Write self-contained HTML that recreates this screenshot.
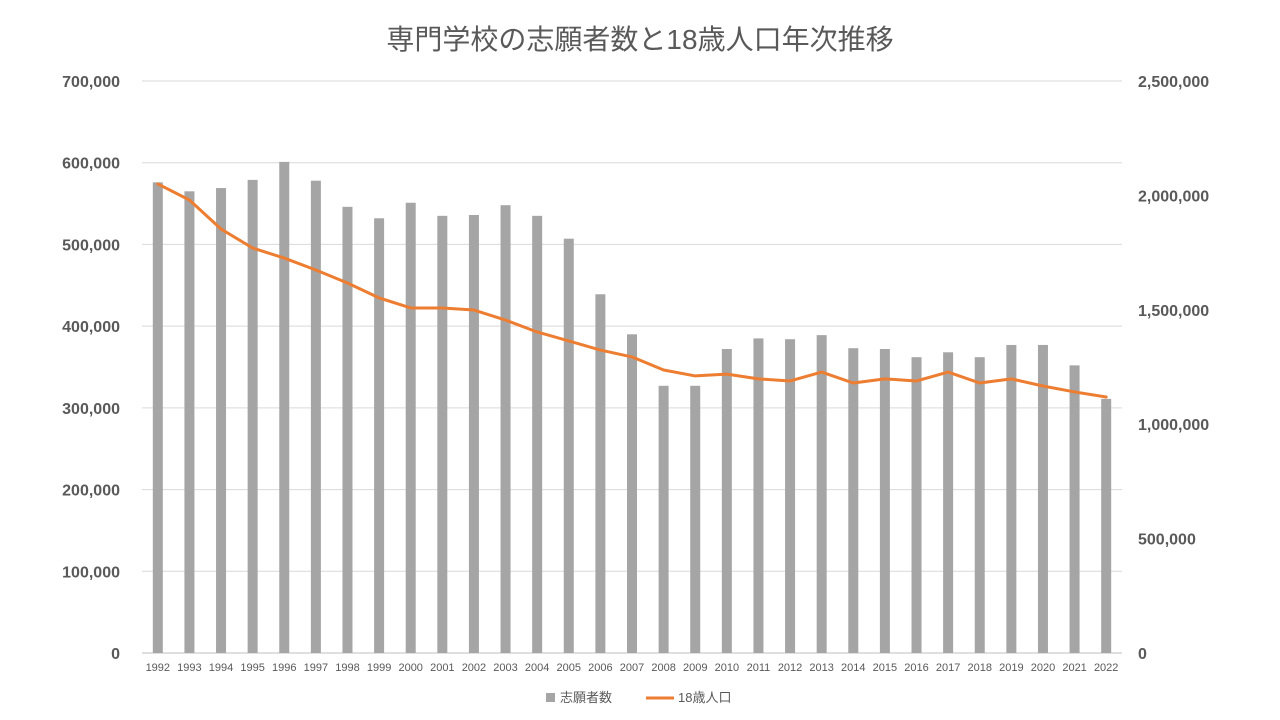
<!DOCTYPE html>
<html><head><meta charset="utf-8">
<style>
html,body{margin:0;padding:0;background:#fff;}
svg{display:block;font-family:"Liberation Sans","Noto Sans CJK JP",sans-serif;}
</style></head>
<body>
<svg id="chart" width="1280" height="720" viewBox="0 0 1280 720">
<text x="640" y="49" text-anchor="middle" font-size="28" fill="#595959">専門学校の志願者数と18歳人口年次推移</text>
<g id="grid"></g>
<g id="bars"></g>
<g id="line"></g>
<g id="axes"></g>
<g>
<rect x="546" y="693" width="9" height="9" fill="#a5a5a5"/>
<text x="560" y="702" font-size="13" fill="#595959">志願者数</text>
<line x1="646" y1="698" x2="674" y2="698" stroke="#ed7d31" stroke-width="3"/>
<text x="678" y="702" font-size="13" fill="#595959">18歳人口</text>
</g>
</svg>
<script>
const years = ["1992","1993","1994","1995","1996","1997","1998","1999","2000","2001","2002","2003","2004","2005","2006","2007","2008","2009","2010","2011","2012","2013","2014","2015","2016","2017","2018","2019","2020","2021","2022"];
const applicants = [576000,565000,569000,579000,601000,578000,546000,532000,551000,535000,536000,548000,535000,507000,439000,390000,327000,327000,372000,385000,384000,389000,373000,372000,362000,368000,362000,377000,377000,352000,311000];
const population18 = [2050000,1980000,1853000,1770000,1726000,1674000,1617000,1552000,1508000,1508000,1499000,1455000,1403000,1364000,1324000,1294000,1237000,1211000,1219000,1198000,1189000,1228000,1180000,1198000,1189000,1228000,1180000,1198000,1167000,1141000,1119000];
const leftTicks = [0,100000,200000,300000,400000,500000,600000,700000];
const rightTicks = [0,500000,1000000,1500000,2000000,2500000];

const NS="http://www.w3.org/2000/svg";
const X0=142,X1=1122,Y0=653,Y1=81;
const bw=(X1-X0)/years.length;
const xC=i=>X0+bw*(i+0.5);
const yL=v=>Y0-(v/700000)*(Y0-Y1);
const yR=v=>Y0-(v/2500000)*(Y0-Y1);
const fmt=v=>v.toLocaleString("en-US");
function mk(tag,attrs,parent,text){const e=document.createElementNS(NS,tag);for(const k in attrs)e.setAttribute(k,attrs[k]);if(text!==undefined)e.textContent=text;parent.appendChild(e);return e;}
const grid=document.getElementById("grid"),axes=document.getElementById("axes"),bars=document.getElementById("bars"),line=document.getElementById("line");
leftTicks.forEach(v=>{
  const g=mk("line",{x1:X0,x2:X1,y1:yL(v),y2:yL(v),stroke:v===0?"#bfbfbf":"#d9d9d9","stroke-width":1},grid);
  
  
  const t=mk("text",{x:120,y:yL(v)+6,"text-anchor":"end","font-size":16,"font-weight":"bold",fill:"#595959"},axes,fmt(v));
  
  
});
rightTicks.forEach(v=>{
  const t=mk("text",{x:1138,y:yR(v)+6,"text-anchor":"start","font-size":16,"font-weight":"bold",fill:"#595959"},axes,fmt(v));
  
  
});
years.forEach((y,i)=>{
  const t=mk("text",{x:xC(i),y:671,"text-anchor":"middle","font-size":11,fill:"#595959"},axes,y);
  
  
  const b=mk("rect",{x:xC(i)-5,y:yL(applicants[i]),width:10,height:Y0-yL(applicants[i]),fill:"#a5a5a5"},bars);
  
  
});
const pts=population18.map((v,i)=>xC(i)+","+yR(v)).join(" ");
const pl=mk("polyline",{points:pts,fill:"none",stroke:"#ed7d31","stroke-width":3,"stroke-linejoin":"round","stroke-linecap":"round"},line);


</script>
</body></html>
